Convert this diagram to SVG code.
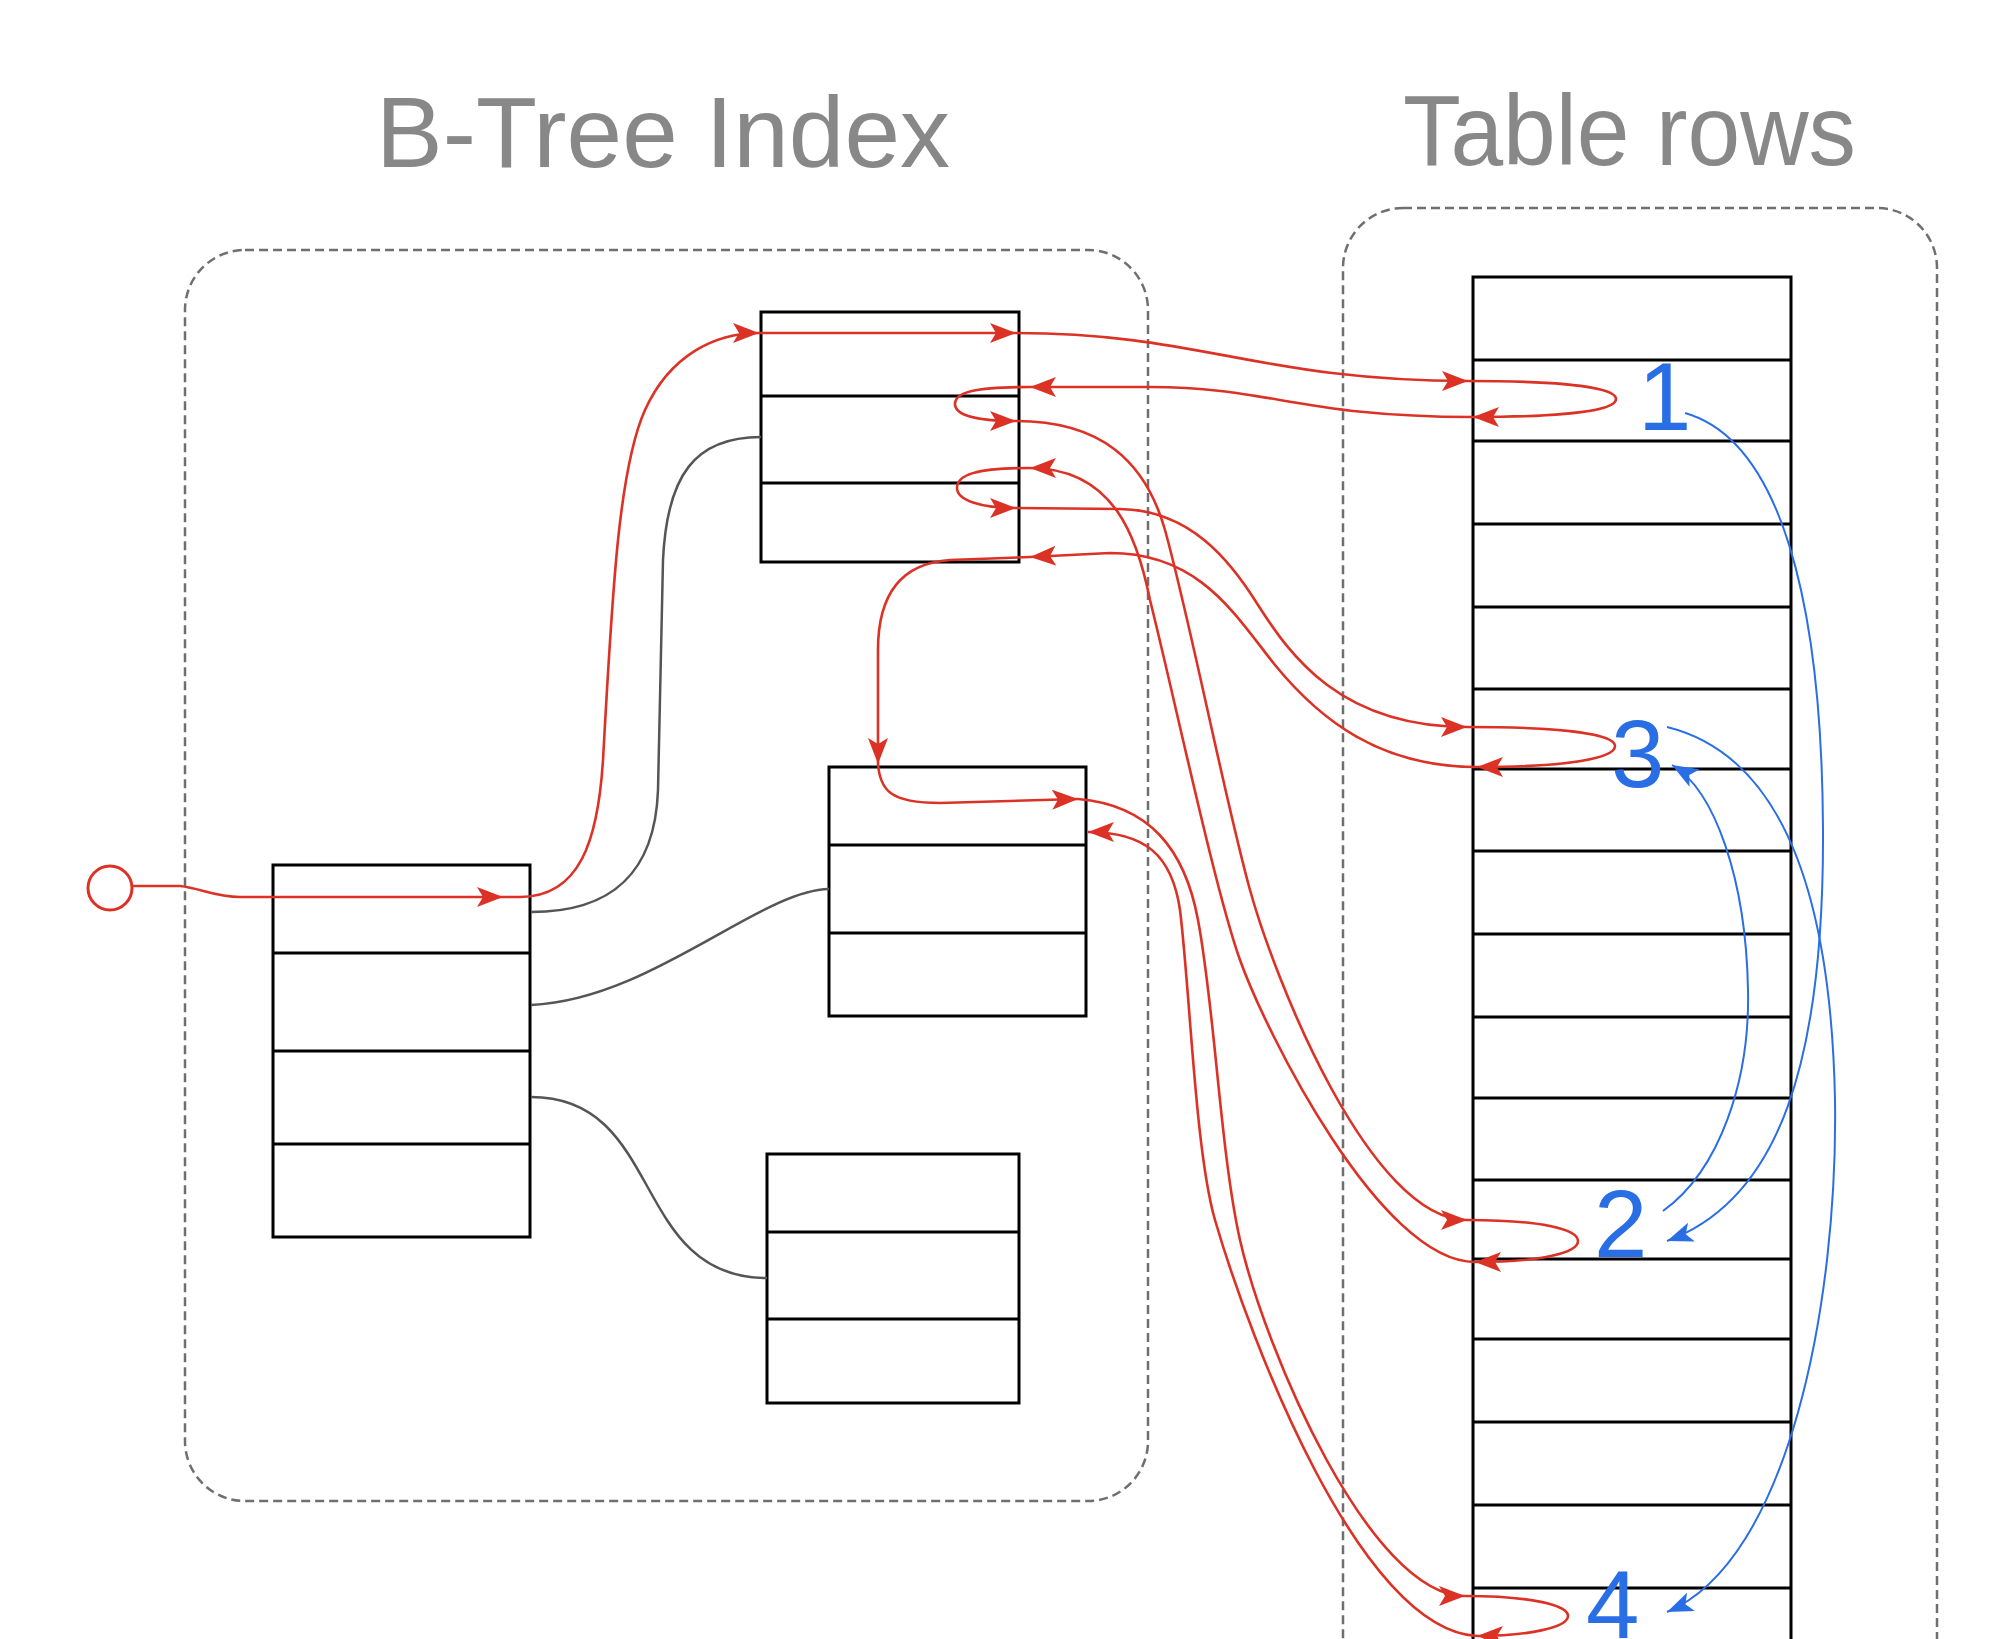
<svg xmlns="http://www.w3.org/2000/svg" width="2000" height="1639" viewBox="0 0 2000 1639">
<defs>
<style>
.cont{fill:none;stroke:#6f6f6f;stroke-width:2.5;stroke-dasharray:9 5}
.box{fill:#fff;stroke:#000;stroke-width:3}
.sep{stroke:#000;stroke-width:3}
.title{font-family:"Liberation Sans",Arial,sans-serif;font-size:100px;fill:#888}
.num{font-family:"Liberation Sans",Arial,sans-serif;font-size:96px;fill:#2a6ee6}
.gray{fill:none;stroke:#555;stroke-width:2.5}
.redm{fill:none;stroke:#dc3226;stroke-width:2.6;marker-end:url(#ar)}
.bluem{fill:none;stroke:#2a6ee6;stroke-width:2;marker-end:url(#ab)}
</style>
<marker id="ar" viewBox="0 0 26 20" refX="26" refY="10" markerWidth="26" markerHeight="20" markerUnits="userSpaceOnUse" orient="auto"><path d="M0,0 L26,10 L0,20 L6,10 z" fill="#dc3226"/></marker>
<marker id="ab" viewBox="0 0 26 20" refX="26" refY="10" markerWidth="26" markerHeight="20" markerUnits="userSpaceOnUse" orient="auto"><path d="M0,0 L26,10 L0,20 L6,10 z" fill="#2a6ee6"/></marker>
</defs>
<rect width="2000" height="1639" fill="#fff"/>

<g id="titles">
<text class="title" x="376" y="167" textLength="574" lengthAdjust="spacingAndGlyphs">B-Tree Index</text>
<text class="title" x="1403" y="165" textLength="453" lengthAdjust="spacingAndGlyphs">Table rows</text>
</g>

<g id="container-btree"><rect class="cont" x="185" y="250" width="963" height="1251" rx="60" ry="60"/></g>
<g id="container-table"><rect class="cont" x="1343" y="208" width="594" height="1520" rx="60" ry="60"/></g>

<g id="node-root">
<rect class="box" x="273" y="865" width="257" height="372"/>
<line class="sep" x1="273" y1="953" x2="530" y2="953"/>
<line class="sep" x1="273" y1="1051" x2="530" y2="1051"/>
<line class="sep" x1="273" y1="1144" x2="530" y2="1144"/>
</g>
<g id="node-top">
<rect class="box" x="761" y="312" width="258" height="250"/>
<line class="sep" x1="761" y1="396" x2="1019" y2="396"/>
<line class="sep" x1="761" y1="483" x2="1019" y2="483"/>
</g>
<g id="node-mid">
<rect class="box" x="829" y="767" width="257" height="249"/>
<line class="sep" x1="829" y1="845" x2="1086" y2="845"/>
<line class="sep" x1="829" y1="933" x2="1086" y2="933"/>
</g>
<g id="node-bottom">
<rect class="box" x="767" y="1154" width="252" height="249"/>
<line class="sep" x1="767" y1="1232" x2="1019" y2="1232"/>
<line class="sep" x1="767" y1="1319" x2="1019" y2="1319"/>
</g>
<g id="node-table">
<rect class="box" x="1473" y="277" width="318" height="1450"/>
<g class="sep">
<line x1="1473" y1="360" x2="1791" y2="360"/>
<line x1="1473" y1="441" x2="1791" y2="441"/>
<line x1="1473" y1="524" x2="1791" y2="524"/>
<line x1="1473" y1="607" x2="1791" y2="607"/>
<line x1="1473" y1="689" x2="1791" y2="689"/>
<line x1="1473" y1="769" x2="1791" y2="769"/>
<line x1="1473" y1="851" x2="1791" y2="851"/>
<line x1="1473" y1="934" x2="1791" y2="934"/>
<line x1="1473" y1="1017" x2="1791" y2="1017"/>
<line x1="1473" y1="1098" x2="1791" y2="1098"/>
<line x1="1473" y1="1180" x2="1791" y2="1180"/>
<line x1="1473" y1="1259" x2="1791" y2="1259"/>
<line x1="1473" y1="1339" x2="1791" y2="1339"/>
<line x1="1473" y1="1422" x2="1791" y2="1422"/>
<line x1="1473" y1="1505" x2="1791" y2="1505"/>
<line x1="1473" y1="1588" x2="1791" y2="1588"/>
<line x1="1473" y1="1670" x2="1791" y2="1670"/>
</g>
</g>

<g id="start"><circle cx="110" cy="888" r="22" fill="#fff" stroke="#dc3226" stroke-width="3"/></g>

<g id="labels">
<text class="num" x="1638" y="430">1</text>
<text class="num" x="1611" y="787">3</text>
<text class="num" x="1594" y="1257">2</text>
<text class="num" x="1586" y="1638">4</text>
</g>

<g id="connectors">
<path class="gray" d="M531,912 C610,912 655,875 658,790 L663,560 C667,475 695,437 761,437"/>
<path class="gray" d="M531,1005 C650,1000 760,890 829,889"/>
<path class="gray" d="M531,1097 C665,1097 630,1278 767,1278"/>

<path class="redm" d="M132,886 L180,886 C200,888 215,897 240,897 L503,897"/>
<path class="redm" d="M503,897 L520,897 C580,897 598,840 603,760 C612,600 618,470 645,410 C670,355 715,333 759,333"/>
<path class="redm" d="M759,333 L1016,333"/>
<path class="redm" d="M1016,333 C1200,333 1260,381 1468,381"/>
<path class="redm" d="M1468,381 C1570,381 1616,388 1616,399 C1616,410 1570,417 1473,417"/>
<path class="redm" d="M1473,417 C1300,417 1270,387 1150,387 L1030,387"/>
<path class="redm" d="M1030,387 C975,387 955,392 955,404 C955,416 980,421 1016,421"/>
<path class="redm" d="M1016,421 C1100,421 1145,460 1165,530 C1190,620 1225,800 1250,890 C1275,980 1370,1220 1467,1220"/>
<path class="redm" d="M1467,1220 C1540,1220 1578,1229 1578,1241 C1578,1253 1540,1262 1475,1262"/>
<path class="redm" d="M1475,1262 C1380,1262 1265,1030 1240,960 C1215,890 1175,700 1150,600 C1138,540 1115,468 1030,468"/>
<path class="redm" d="M1030,468 C975,468 957,475 957,488 C957,500 980,508 1016,508"/>
<path class="redm" d="M1016,508 L1120,509 C1190,510 1230,560 1258,605 C1290,655 1340,727 1467,727"/>
<path class="redm" d="M1467,727 C1570,727 1615,735 1615,746 C1615,758 1570,767 1477,767"/>
<path class="redm" d="M1477,767 C1380,767 1320,720 1275,665 C1235,615 1200,553 1110,553 L1030,557"/>
<path class="redm" d="M1030,557 L950,560 C905,563 878,590 878,650 L878,764"/>
<path class="redm" d="M878,764 C880,790 890,803 940,803 L1078,799"/>
<path class="redm" d="M1078,799 C1150,805 1185,850 1198,920 C1215,1010 1220,1150 1240,1240 C1265,1350 1370,1596 1465,1596"/>
<path class="redm" d="M1465,1596 C1530,1596 1568,1605 1568,1616 C1568,1627 1530,1636 1477,1636"/>
<path class="redm" d="M1477,1636 C1360,1630 1250,1340 1215,1220 C1195,1150 1190,990 1180,910 C1172,855 1145,832 1088,832"/>

<path class="bluem" d="M1685,413 C1780,440 1822,600 1823,830 C1824,1060 1780,1200 1667,1241"/>
<path class="bluem" d="M1663,1211 C1720,1170 1750,1080 1748,990 C1746,880 1715,790 1672,765"/>
<path class="bluem" d="M1667,727 C1760,750 1830,850 1835,1100 C1838,1300 1790,1560 1667,1612"/>
</g>
</svg>
